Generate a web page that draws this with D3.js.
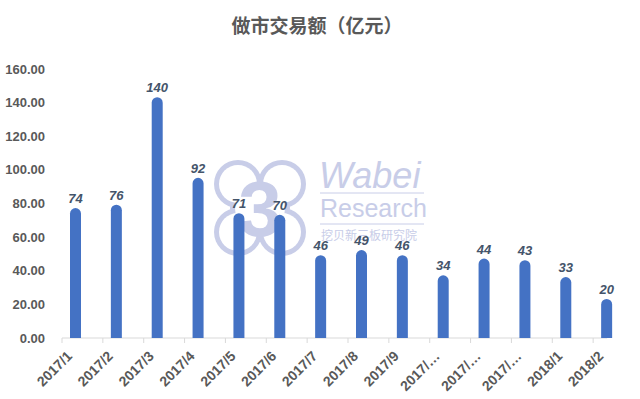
<!DOCTYPE html>
<html>
<head>
<meta charset="utf-8">
<script src="https://cdn.jsdelivr.net/npm/d3@7"></script>
<style>
  body { margin: 0; background: #fff; }
  svg { display: block; font-family: "Liberation Sans", Arial, "Noto Sans CJK SC", sans-serif; }
</style>
</head>
<body>
<div id="chart"></div>
<script>
// 做市交易额 by month
const months = ["2017/1", "2017/2", "2017/3", "2017/4", "2017/5", "2017/6", "2017/7",
  "2017/8", "2017/9", "2017/10", "2017/11", "2017/12", "2018/1", "2018/2"]
const amounts = [74, 76, 140, 92, 71, 70, 46, 49, 46, 34, 44, 43, 33, 20]
const monthLabels = ["2017/1", "2017/2", "2017/3", "2017/4", "2017/5", "2017/6", "2017/7",
  "2017/8", "2017/9", "2017/…", "2017/…", "2017/…", "2018/1", "2018/2"]
const yTicks = [0, 20, 40, 60, 80, 100, 120, 140, 160]

const width = 640
const height = 399
const barColor = "#4472C4"
const textColor = "#595959"
const markColor = "#C8CDE8"

const svg = d3.select("#chart")
  .append("svg")
  .attr("width", width)
  .attr("height", height)

// Scales
const x = d3.scaleBand()
  .domain(months)
  .range([62, 634])

const y = d3.scaleLinear()
  .domain([0, 160])
  .range([338, 69])

const barW = 11
const barOffset = 8 // bars sit left of band centre, like the source
const capR = barW / 2

// Title
svg.append("text")
  .attr("x", 317)
  .attr("y", 33)
  .attr("text-anchor", "middle")
  .attr("font-size", 19)
  .attr("font-weight", "bold")
  .attr("fill", textColor)
  .attr("font-family", "'Noto Sans CJK SC', sans-serif")
  .text("做市交易额（亿元）")

// Watermark (drawn under the bars)
const wm = svg.append("g")
const lobes = [[238, 184], [282, 184], [238, 232], [282, 232], [260, 208]]
wm.selectAll("circle.o")
  .data(lobes)
  .join("circle")
  .attr("cx", d => d[0]).attr("cy", d => d[1])
  .attr("r", d => d[0] === 260 ? 30 : 24)
  .attr("fill", markColor)
wm.selectAll("circle.i")
  .data(lobes)
  .join("circle")
  .attr("cx", d => d[0]).attr("cy", d => d[1])
  .attr("r", d => d[0] === 260 ? 25 : 19)
  .attr("fill", "#fff")
wm.append("text")
  .attr("x", 260).attr("y", 236)
  .attr("text-anchor", "middle")
  .attr("font-size", 78)
  .attr("font-weight", "bold")
  .attr("fill", markColor)
  .text("3")
wm.append("text")
  .attr("x", 319).attr("y", 188)
  .attr("font-size", 36)
  .attr("font-style", "italic")
  .attr("fill", markColor)
  .text("Wabei")
wm.append("text")
  .attr("x", 320).attr("y", 217)
  .attr("font-size", 25)
  .attr("fill", markColor)
  .text("Research")
wm.append("text")
  .attr("x", 321).attr("y", 240)
  .attr("font-size", 12)
  .attr("fill", markColor)
  .attr("font-family", "'Noto Sans CJK SC', sans-serif")
  .text("挖贝新三板研究院")
wm.selectAll("line")
  .data([193, 224])
  .join("line")
  .attr("x1", 320).attr("x2", 424)
  .attr("y1", d => d).attr("y2", d => d)
  .attr("stroke", markColor)
  .attr("stroke-width", 1)

// Y axis labels
svg.append("g")
  .selectAll("text")
  .data(yTicks)
  .join("text")
  .attr("x", 45)
  .attr("y", d => y(d))
  .attr("dy", "0.35em")
  .attr("text-anchor", "end")
  .attr("font-size", 13)
  .attr("font-weight", "bold")
  .attr("fill", textColor)
  .text(d => d.toFixed(2))

// X axis: line + tick marks at band edges
const xAxis = svg.append("g")
xAxis.append("line")
  .attr("x1", x.range()[0])
  .attr("x2", x(months[months.length - 1]) + 14)
  .attr("y1", y(0)).attr("y2", y(0))
  .attr("stroke", "#D9D9D9")
xAxis.selectAll("line.tick")
  .data(months)
  .join("line")
  .attr("class", "tick")
  .attr("x1", d => x(d)).attr("x2", d => x(d))
  .attr("y1", y(0)).attr("y2", y(0) + 5)
  .attr("stroke", "#D9D9D9")

xAxis.selectAll("text")
  .data(months)
  .join("text")
  .attr("text-anchor", "end")
  .attr("font-size", 14)
  .attr("font-weight", "bold")
  .attr("fill", textColor)
  .attr("transform", d => `translate(${x(d) + 11},${y(0) + 19}) rotate(-45)`)
  .text((d, i) => monthLabels[i])

// Bars with rounded tops
const barPath = (d) => {
  const x0 = x(d.m) + barOffset
  const top = y(d.v) - capR
  const base = y(0)
  return `M${x0},${base}V${top + capR}A${capR},${capR} 0 0 1 ${x0 + barW},${top + capR}V${base}Z`
}

const data = months.map((m, i) => ({ m, v: amounts[i] }))

svg.append("g")
  .selectAll("path")
  .data(data)
  .join("path")
  .attr("d", barPath)
  .attr("fill", barColor)

// Value labels
svg.append("g")
  .selectAll("text")
  .data(data)
  .join("text")
  .attr("x", d => x(d.m) + barOffset + barW / 2)
  .attr("y", d => y(d.v) - capR - 5)
  .attr("text-anchor", "middle")
  .attr("font-size", 13)
  .attr("font-weight", "bold")
  .attr("font-style", "italic")
  .attr("fill", "#44546A")
  .text(d => d.v)
</script>
</body>
</html>
